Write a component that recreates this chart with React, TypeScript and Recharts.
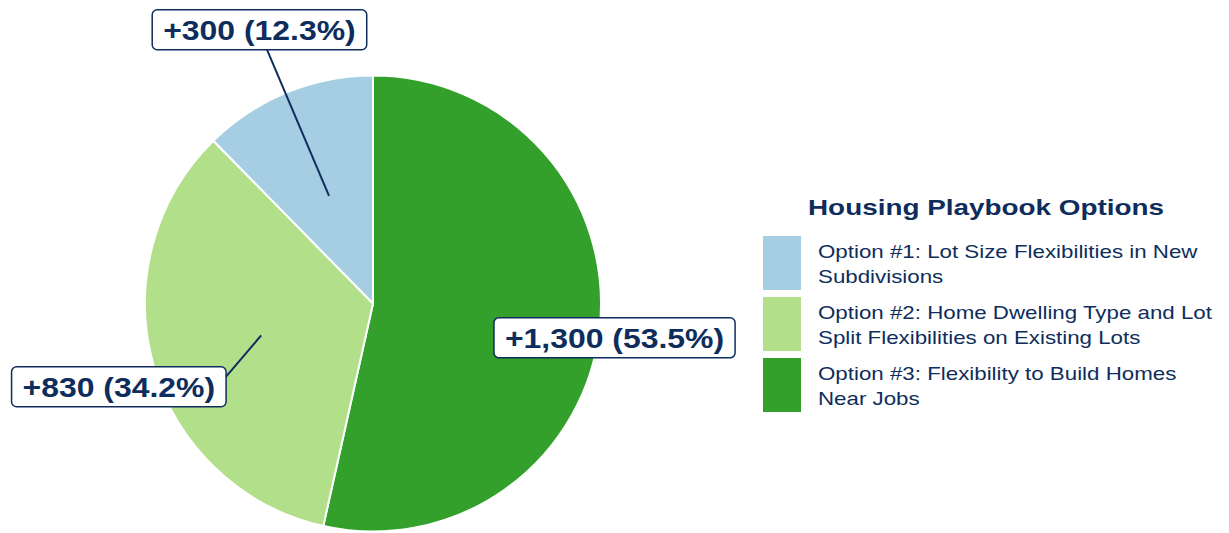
import { Legend, Pie, PieChart, Cell } from 'recharts';

// order of the slices, clockwise from 12 o'clock
const OPTION_KEYS = ['opt3', 'opt2', 'opt1'];
const OPTION_VALUES = [1300, 830, 300];
const OPTION_COLORS = ['#33a02c', '#b2df8a', '#a6cee3'];

// legend is listed in option order (#1, #2, #3), already wrapped into two lines
const LEGEND_TITLE = 'Housing Playbook Options';
const LEGEND_LINES = [
  ['Option #1: Lot Size Flexibilities in New', 'Subdivisions'],
  ['Option #2: Home Dwelling Type and Lot', 'Split Flexibilities on Existing Lots'],
  ['Option #3: Flexibility to Build Homes', 'Near Jobs']
];
const LEGEND_COLORS = ['#a6cee3', '#b2df8a', '#33a02c'];

const NAVY = '#0e2d5c';
const FONT = '"Liberation Sans", Arial, sans-serif';

// where each callout box sits relative to its slice
const CALLOUTS = [
  { radius: 1.07, shift: -1.8, line: null },
  { radius: 1.173, shift: 2.2, line: [1, -0.5] },
  { radius: 1.3, shift: 0.3, line: [0.07, 1] }
];

const BOLD_WIDTHS: Record<string, number> = {
  '+': 0.584, ',': 0.278, ' ': 0.278, '(': 0.333, ')': 0.333, '.': 0.278, '%': 0.889
};
const emWidth = (s: string) =>
  s.split('').reduce((sum, ch) => sum + (BOLD_WIDTHS[ch] ?? 0.556), 0);

const RAD = Math.PI / 180;
const polar = (cx: number, cy: number, r: number, angle: number) => [
  cx + r * Math.cos(-angle * RAD),
  cy + r * Math.sin(-angle * RAD)
];

const data = OPTION_KEYS.map((key, i) => ({ key, value: OPTION_VALUES[i] }));
const total = OPTION_VALUES.reduce((a, b) => a + b, 0);

function renderCallout(props: any) {
  const { cx, cy, midAngle, outerRadius, index } = props;
  const value = OPTION_VALUES[index];
  const text = `+${value.toLocaleString('en-US')} (${((value / total) * 100).toFixed(1)}%)`;
  const layout = CALLOUTS[index];
  const fontSize = 28.5;
  const textW = emWidth(text) * fontSize * 1.12;
  const w = textW + 22;
  const h = 40;
  const [bx, by] = polar(cx, cy, outerRadius * layout.radius, midAngle + layout.shift);
  let line = null;
  if (layout.line) {
    const [ax, ay] = polar(cx, cy, outerRadius * 0.51, midAngle);
    const ex = bx + (layout.line[0] * w) / 2;
    const ey = by + (layout.line[1] * h) / 2;
    line = <line x1={ax} y1={ay} x2={ex} y2={ey} stroke={NAVY} strokeWidth={2} />;
  }
  return (
    <g key={`callout-${index}`}>
      {line}
      <rect x={bx - w / 2} y={by - h / 2} width={w} height={h} rx={5} ry={5}
        fill="#fff" stroke={NAVY} strokeWidth={1.5} />
      <text x={bx} y={by + 10.4} textAnchor="middle" fontFamily={FONT} fontWeight="bold"
        fontSize={fontSize} fill={NAVY} textLength={textW} lengthAdjust="spacingAndGlyphs">
        {text}
      </text>
    </g>
  );
}

function PlaybookLegend() {
  return (
    <svg width={470} height={240} style={{ display: 'block' }}>
      <text transform="translate(53,30) scale(1.25,1)" fontFamily={FONT} fontWeight="bold"
        fontSize={22.3} fill={NAVY}>
        {LEGEND_TITLE}
      </text>
      {LEGEND_LINES.map((lines, i) => {
        const top = 51 + i * 61;
        return (
          <g key={i}>
            <rect x={8} y={top} width={38} height={54} fill={LEGEND_COLORS[i]} />
            {lines.map((ln, j) => (
              <text key={j} transform={`translate(63,${top + 22.3 + j * 24.5}) scale(1.24,1)`}
                fontFamily={FONT} fontSize={18} fill={NAVY}>
                {ln}
              </text>
            ))}
          </g>
        );
      })}
    </svg>
  );
}

export default function App() {
  return (
    <div style={{ width: 1213, height: 525, background: '#fff' }}>
      <PieChart width={1213} height={525} margin={{ top: 0, right: 0, bottom: 0, left: 0 }}>
        <Pie
          data={data}
          dataKey="value"
          nameKey="key"
          cx={365}
          cy={295.5}
          outerRadius={228}
          startAngle={90}
          endAngle={-270}
          stroke="#fff"
          strokeWidth={2}
          label={renderCallout}
          labelLine={false}
          isAnimationActive={false}
        >
          {data.map((d, i) => (
            <Cell key={d.key} fill={OPTION_COLORS[i]} />
          ))}
        </Pie>
        <Legend
          content={() => <PlaybookLegend />}
          wrapperStyle={{ position: 'absolute', left: 747, top: 177, width: 470, height: 240 }}
        />
      </PieChart>
    </div>
  );
}
